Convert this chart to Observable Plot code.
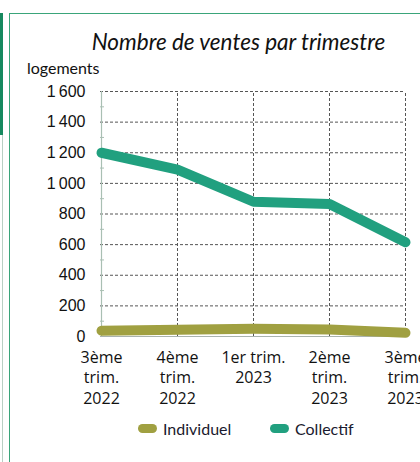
<!DOCTYPE html>
<html>
<head>
<meta charset="utf-8">
<script src="https://cdn.jsdelivr.net/npm/d3@7"></script>
<script src="https://cdn.jsdelivr.net/npm/@observablehq/plot@0.6"></script>
<style>
  html, body { margin: 0; padding: 0; background: #fff; }
  #wrap { position: relative; width: 420px; height: 462px; overflow: hidden; }
  .bar { position: absolute; left: 0; top: 13px; width: 3px; height: 122px; background: #17895f; }
  .thin { position: absolute; left: 2px; top: 135px; width: 1px; height: 327px; background: #b9cfc4; }
  .vline { position: absolute; left: 9px; top: 13px; width: 1px; height: 449px; background: #3aa57a; }
  .hline { position: absolute; left: 9px; top: 13px; width: 411px; height: 1px; background: #3aa57a; }
  #title { position: absolute; left: 0; width: 477px; top: 28px; text-align: center; font-family: Lato, sans-serif; font-style: italic; font-size: 22.5px; color: #111; }
  #unit { position: absolute; left: 27px; top: 58px; font-family: Lato, sans-serif; font-size: 16px; color: #111; }
  #chart { position: absolute; left: 0; top: 78px; }
  #legend { position: absolute; top: 419px; left: 0; width: 420px; font-family: Lato, sans-serif; font-size: 16px; color: #1a1a2e; }
  .item { position: absolute; display: flex; align-items: center; }
  .sw { width: 19px; height: 9px; border-radius: 5px; margin-right: 6px; }
</style>
</head>
<body>
<div id="wrap">
  <div class="bar"></div>
  <div class="thin"></div>
  <div class="vline"></div>
  <div class="hline"></div>
  <div id="title">Nombre de ventes par trimestre</div>
  <div id="unit">logements</div>
  <div id="chart"></div>
  <div id="legend"></div>
</div>
<script>
const categories = ["3ème\ntrim.\n2022", "4ème\ntrim.\n2022", "1er trim.\n2023", "2ème\ntrim.\n2023", "3ème\ntrim.\n2023"];
const individuel = [38, 44, 50, 46, 24];
const collectif = [1200, 1090, 880, 865, 615];
const seriesNames = ["Individuel", "Collectif"];
const seriesColors = ["#a0a041", "#21a07f"];
const yTicks = [0, 200, 400, 600, 800, 1000, 1200, 1400, 1600];
const yMinor = [100, 300, 500, 700, 900, 1100, 1300, 1500];

const data = [];
categories.forEach((c, i) => {
  data.push({cat: c, series: "Individuel", value: individuel[i]});
  data.push({cat: c, series: "Collectif", value: collectif[i]});
});

const fmt = n => n >= 1000 ? `${Math.floor(n / 1000)}\u2009${String(n % 1000).padStart(3, "0")}` : String(n);

const chart = Plot.plot({
  width: 420,
  height: 338,
  marginLeft: 100,
  marginRight: 15,
  marginTop: 13,
  marginBottom: 80,
  style: {background: "transparent", overflow: "visible"},
  x: {type: "point", domain: categories, padding: 0, label: null},
  y: {domain: [0, 1600], label: null},
  color: {domain: seriesNames, range: seriesColors},
  marks: [
    Plot.ruleY(yTicks.filter(d => d > 0), {stroke: "#555", strokeDasharray: "3,2", strokeWidth: 1}),
    Plot.ruleX(categories.slice(1), {y1: 0, y2: 1600, stroke: "#555", strokeDasharray: "3,2", strokeWidth: 1}),
    Plot.ruleX([categories[0]], {y1: 0, y2: 1600, stroke: "#a9bfb3", strokeWidth: 1.2}),
    Plot.ruleY([0], {stroke: "#a9b3ae", strokeWidth: 1.2}),
    Plot.axisY({ticks: yMinor, tickSize: -4, tickFormat: () => "", stroke: "#a9bfb3", label: null}),
    Plot.axisY({ticks: yTicks, tickSize: 0, tickPadding: 15, tickFormat: fmt, fontSize: 16, fontFamily: "Liberation Sans, Arial, sans-serif", fill: "#111", label: null}),
    Plot.axisX({tickSize: 0, tickPadding: 12, fontSize: 16, lineHeight: 1.27, fontFamily: "Open Sans, sans-serif", fill: "#111", label: null}),
    Plot.line(data, {x: "cat", y: "value", z: "series", stroke: "series", strokeWidth: 10, strokeLinecap: "round", strokeLinejoin: "round"})
  ]
});
document.getElementById("chart").appendChild(chart);

const legend = document.getElementById("legend");
const lefts = [138, 270];
seriesNames.forEach((s, i) => {
  const it = document.createElement("div");
  it.className = "item";
  it.style.left = lefts[i] + "px";
  it.innerHTML = `<span class="sw" style="background:${seriesColors[i]}"></span><span>${s}</span>`;
  legend.appendChild(it);
});
</script>
</body>
</html>
